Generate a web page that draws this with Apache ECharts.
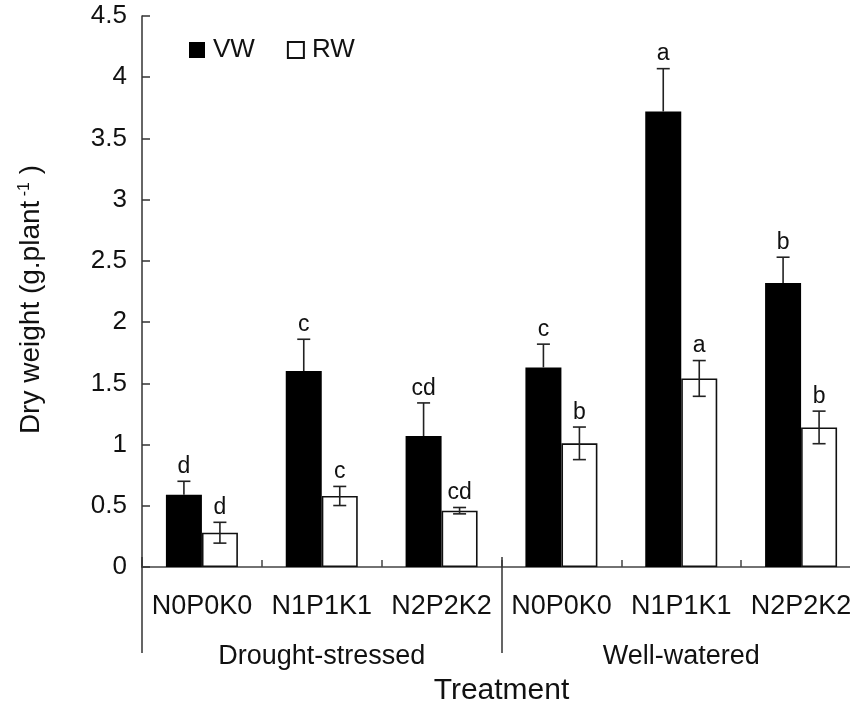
<!DOCTYPE html>
<html>
<head>
<meta charset="utf-8">
<script src="https://cdn.jsdelivr.net/npm/echarts@6/dist/echarts.min.js"></script>
<style>
html,body{margin:0;padding:0;background:#fff;}
#main{width:850px;height:706px;}
</style>
</head>
<body>
<div id="main"></div>
<script>
var categories = ['N0P0K0','N1P1K1','N2P2K2','N0P0K0','N1P1K1','N2P2K2'];
var groups = ['Drought-stressed','Well-watered'];
var yTicks = [0, 4.5, 0.5]; // min, max, interval
var vw = [0.59, 1.60, 1.07, 1.63, 3.72, 2.32];
var vwErr = [0.11, 0.26, 0.27, 0.19, 0.35, 0.21];
var rw = [0.28, 0.58, 0.46, 1.01, 1.54, 1.14];
var rwErr = [0.085, 0.078, 0.026, 0.133, 0.146, 0.133];
var vwLetters = ['d','c','cd','c','a','b'];
var rwLetters = ['d','c','cd','b','a','b'];

var FONT = '"Liberation Sans", Arial, sans-serif';
var chart = echarts.init(document.getElementById('main'), null, {renderer:'canvas'});

function errSeries(name, vals, errs, letters, offset, twoSided) {
  return {
    type: 'custom',
    name: name + ' err',
    z: 10,
    silent: true,
    legendHoverLink: false,
    data: vals.map(function (v, i) { return [i, v, errs[i]]; }),
    encode: {x: 0, y: 1},
    renderItem: function (params, api) {
      var i = api.value(0), v = api.value(1), e = api.value(2);
      var x = api.coord([i, 0])[0] + offset;
      var yT = api.coord([i, v + e])[1];
      var yB = api.coord([i, twoSided ? v - e : v])[1];
      var cw = 6.5;
      var st = {stroke: '#222', lineWidth: 1.6};
      var ch = [
        {type: 'line', shape: {x1: x, y1: yT, x2: x, y2: yB}, style: st},
        {type: 'line', shape: {x1: x - cw, y1: yT, x2: x + cw, y2: yT}, style: st}
      ];
      if (twoSided) ch.push({type: 'line', shape: {x1: x - cw, y1: yB, x2: x + cw, y2: yB}, style: st});
      ch.push({type: 'text', style: {text: letters[params.dataIndex], x: x, y: yT - 3,
        align: 'center', verticalAlign: 'bottom', fill: '#111', font: '23px ' + FONT}});
      return {type: 'group', children: ch};
    }
  };
}

var option = {
  animation: false,
  backgroundColor: '#fff',
  textStyle: {fontFamily: FONT},
  legend: {
    left: 184, top: 32,
    itemWidth: 16, itemHeight: 16, itemGap: 32,
    icon: 'rect',
    data: ['VW', 'RW'],
    textStyle: {fontSize: 26, color: '#111', fontFamily: FONT, padding: [0, 0, 0, 3]}
  },
  grid: {left: 142, right: -11, top: 16, bottom: 139, containLabel: false, outerBoundsMode: 'none'},
  xAxis: [{
    type: 'category',
    data: categories,
    axisLine: {show: true, lineStyle: {color: '#444', width: 1.5}},
    axisTick: {show: true, inside: true, length: 7, alignWithLabel: false, lineStyle: {color: '#444', width: 1.5}},
    axisLabel: {margin: 26, fontSize: 27, color: '#111', fontFamily: FONT, interval: 0},
    splitLine: {show: false}
  }, {
    type: 'category',
    data: groups,
    position: 'bottom',
    offset: 86,
    axisLine: {show: false},
    axisTick: {show: true, inside: true, length: 96, lineStyle: {color: '#333', width: 1.5}},
    axisLabel: {margin: -10, fontSize: 27, color: '#111', fontFamily: FONT, interval: 0},
    name: 'Treatment',
    nameLocation: 'middle',
    nameGap: 23,
    nameTextStyle: {fontSize: 30, color: '#111', fontFamily: FONT},
    splitLine: {show: false}
  }],
  yAxis: {
    type: 'value',
    min: yTicks[0], max: yTicks[1], interval: yTicks[2],
    axisLine: {show: true, lineStyle: {color: '#333', width: 1.5}},
    axisTick: {show: true, inside: true, length: 8, lineStyle: {color: '#333', width: 1.5}},
    axisLabel: {margin: 15, fontSize: 26, color: '#111', fontFamily: FONT},
    splitLine: {show: false},
    name: 'Dry weight (g.plant{sup| -1} )',
    nameLocation: 'middle',
    nameRotate: 90,
    nameGap: 97,
    nameTextStyle: {fontSize: 28, color: '#111', fontFamily: FONT, padding: [0, 16, 0, 0],
      rich: {sup: {fontSize: 16, verticalAlign: 'top', color: '#111', fontFamily: FONT, padding: [0, 0, 10, 0]}}}
  },
  series: [{
    type: 'bar', name: 'VW', data: vw, barWidth: 36, barGap: '0%',
    itemStyle: {color: '#000', borderColor: '#000', borderWidth: 0}
  }, {
    type: 'bar', name: 'RW', data: rw, barWidth: 36, barGap: '0%',
    itemStyle: {color: '#fff', borderColor: '#111', borderWidth: 1.6}
  },
  errSeries('VW', vw, vwErr, vwLetters, -18, false),
  errSeries('RW', rw, rwErr, rwLetters, 18, true)
  ]
};
chart.setOption(option);
</script>
</body>
</html>
